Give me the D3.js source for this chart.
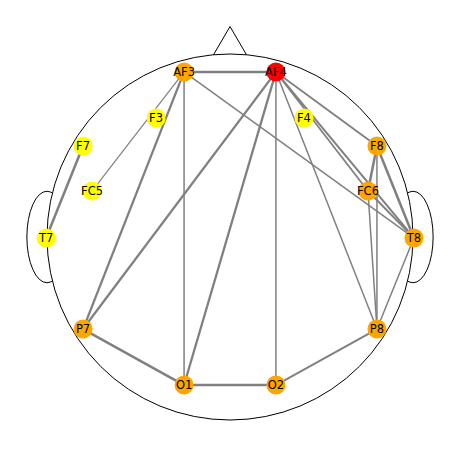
<!DOCTYPE html>
<html>
<head>
<meta charset="utf-8">
<script src="https://cdn.jsdelivr.net/npm/d3@7"></script>
<style>
  body { margin: 0; background: #fff; }
  svg { display: block; }
  text { font-family: "DejaVu Sans", sans-serif; }
</style>
</head>
<body>
<script>
// channel positions, head coords (centre 0,0, radius 1)
const channels = ['AF3', 'AF4', 'F3', 'F4', 'F7', 'F8', 'FC5', 'FC6', 'T7', 'T8', 'P7', 'P8', 'O1', 'O2'];
const chanX = [-0.251, 0.251, -0.404, 0.404, -0.803, 0.803, -0.754, 0.754, -1.005, 1.005, -0.803, 0.803, -0.251, 0.251];
const chanY = [0.902, 0.902, 0.650, 0.650, 0.497, 0.497, 0.251, 0.251, -0.005, -0.005, -0.503, -0.503, -0.809, -0.809];

// connections and their strength
const edgeSource = ['AF3', 'AF3', 'AF3', 'AF3', 'AF3', 'AF4', 'AF4', 'AF4', 'AF4', 'AF4', 'AF4', 'AF4', 'F7', 'F8', 'F8', 'F8', 'FC6', 'FC6', 'T8', 'P7', 'O1', 'O2'];
const edgeTarget = ['AF4', 'FC5', 'P7', 'O1', 'T8', 'P7', 'O1', 'O2', 'P8', 'F8', 'FC6', 'T8', 'T7', 'FC6', 'T8', 'P8', 'T8', 'P8', 'P8', 'O1', 'O2', 'P8'];
const edgeWeight = [2.5, 1.2, 2.3, 1.5, 1.5, 2.3, 2.3, 1.5, 1.5, 1.8, 1.8, 2.0, 2.5, 2.5, 2.5, 1.5, 2.0, 1.5, 1.5, 2.5, 2.5, 2.0];

const width = 460, height = 449;

const x = d3.scaleLinear().domain([-1, 1]).range([47, 413]);
const y = d3.scaleLinear().domain([-1, 1]).range([420, 54]);
const r = x(1) - x(0);

const nodes = channels.map((name, i) => ({ name, x: chanX[i], y: chanY[i], degree: 0 }));
const byName = new Map(nodes.map(n => [n.name, n]));
const edges = edgeSource.map((s, i) => ({ source: byName.get(s), target: byName.get(edgeTarget[i]), w: edgeWeight[i] }));
edges.forEach(e => { e.source.degree++; e.target.degree++; });

// node colour by degree
const colour = d3.scaleThreshold()
  .domain([2, 6])
  .range(['#ffff00', '#ffa500', '#ff0000']);

const svg = d3.select('body').append('svg')
  .attr('width', width)
  .attr('height', height);

/* head outline */
const head = svg.append('g').attr('class', 'head');

// ears
[-1, 1].forEach(side => {
  head.append('ellipse')
    .attr('cx', x(side))
    .attr('cy', y(0))
    .attr('rx', r * 0.11)
    .attr('ry', r * 0.25)
    .attr('fill', 'none')
    .attr('stroke', 'black')
    .attr('stroke-width', 1);
});

// nose
head.append('path')
  .attr('d', d3.line()([[x(-0.09), y(0.996)], [x(0), y(1.15)], [x(0.09), y(0.996)]]))
  .attr('fill', 'white')
  .attr('stroke', 'black')
  .attr('stroke-width', 1);

head.append('circle')
  .attr('cx', x(0))
  .attr('cy', y(0))
  .attr('r', r)
  .attr('fill', 'white')
  .attr('stroke', 'black')
  .attr('stroke-width', 1);

/* edges */
svg.append('g')
  .attr('class', 'edges')
  .selectAll('line')
  .data(edges)
  .enter().append('line')
  .attr('x1', d => x(d.source.x))
  .attr('y1', d => y(d.source.y))
  .attr('x2', d => x(d.target.x))
  .attr('y2', d => y(d.target.y))
  .attr('stroke', 'grey')
  .attr('stroke-width', d => d.w);

/* nodes */
const node = svg.append('g')
  .attr('class', 'nodes')
  .selectAll('g')
  .data(nodes)
  .enter().append('g')
  .attr('transform', d => `translate(${x(d.x)},${y(d.y)})`);

node.append('circle')
  .attr('r', 9.5)
  .attr('fill', d => colour(d.degree));

node.append('text')
  .attr('text-anchor', 'middle')
  .attr('dy', '0.36em')
  .attr('font-size', '11.5px')
  .attr('fill', 'black')
  .text(d => d.name);
</script>
</body>
</html>
